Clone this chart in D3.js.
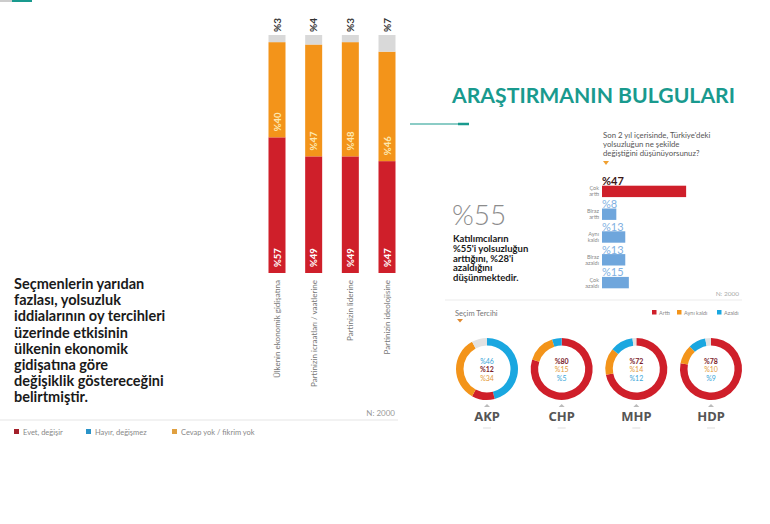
<!DOCTYPE html>
<html><head><meta charset="utf-8">
<script src="https://cdn.jsdelivr.net/npm/d3@7/dist/d3.min.js"></script>
<style>
html,body{margin:0;padding:0;background:#fff;}
svg{display:block;font-family:Lato,"Noto Sans",sans-serif;}
</style></head>
<body>
<script>
// ---- Left stacked bar chart ----
const leftCategories = ["Ülkenin ekonomik gidişatına", "Partinizin icraatları / vaatlerine", "Partinizin liderine", "Partinizin ideolojisine"];
const evetValues = [57, 49, 49, 47];
const cevapYokValues = [40, 47, 48, 46];
const hayirValues = [3, 4, 3, 7];
const leftLegend = ["Evet, değişir", "Hayır, değişmez", "Cevap yok / fikrim yok"];
const leftText = ["Seçmenlerin yarıdan", "fazlası, yolsuzluk", "iddialarının oy tercihleri", "üzerinde etkisinin", "ülkenin ekonomik", "gidişatına göre", "değişiklik göstereceğini", "belirtmiştir."];

// ---- Right horizontal bars ----
const trendCategories = [["Çok", "arttı"], ["Biraz", "arttı"], ["Aynı", "kaldı"], ["Biraz", "azaldı"], ["Çok", "azaldı"]];
const trendValues = [47, 8, 13, 13, 15];
const questionLines = ["Son 2 yıl içerisinde, Türkiye'deki", "yolsuzluğun ne şekilde", "değiştiğini düşünüyorsunuz?"];
const summaryLines = ["Katılımcıların", "%55'i yolsuzluğun", "arttığını, %28'i", "azaldığını", "düşünmektedir."];

// ---- Donuts ----
const parties = ["AKP", "CHP", "MHP", "HDP"];
const arttiValues = [12, 80, 72, 78];
const ayniValues = [34, 15, 14, 10];
const azaldiValues = [46, 5, 12, 9];
const segmentOrder = [["azaldi", "artti", "ayni"], ["artti", "ayni", "azaldi"], ["artti", "ayni", "azaldi"], ["artti", "ayni", "azaldi"]];
const donutLegend = ["Arttı", "Aynı kaldı", "Azaldı"];

const W = 770, H = 524;
const RED = "#cf1f2a", ORANGE = "#f3941a", GRAY = "#d9d9d9", BLUE = "#1aa7e0", LBLUE = "#6fa6dc", TEAL = "#199a8e";

const svg = d3.select("body").append("svg").attr("width", W).attr("height", H);

svg.append("line").attr("x1", 0).attr("x2", 12).attr("y1", 1).attr("y2", 1).attr("stroke", "#bbb").attr("stroke-width", 1.5);
svg.append("line").attr("x1", 12).attr("x2", 32).attr("y1", 1).attr("y2", 1).attr("stroke", TEAL).attr("stroke-width", 2);

// ===== Left stacked bars =====
const xL = d3.scalePoint().domain(leftCategories).range([277, 387]);
const yL = d3.scaleLinear().domain([0, 100]).range([273, 35]);
const barW = 17;
const stackData = leftCategories.map((c, i) => ({cat: c, evet: evetValues[i], cevap: cevapYokValues[i], hayir: hayirValues[i]}));
const stack = d3.stack().keys(["evet", "cevap", "hayir"])(stackData);
const leftColors = {evet: RED, cevap: ORANGE, hayir: GRAY};
const gL = svg.append("g");
stack.forEach(layer => {
  gL.selectAll(null).data(layer).enter().append("rect")
    .attr("x", d => xL(d.data.cat) - barW / 2)
    .attr("y", d => yL(d[1]))
    .attr("width", barW)
    .attr("height", d => yL(d[0]) - yL(d[1]))
    .attr("fill", leftColors[layer.key]);
});
stack.forEach(layer => {
  if (layer.key === "hayir") {
    gL.selectAll(null).data(layer).enter().append("text")
      .attr("transform", d => `translate(${xL(d.data.cat) + 3.5},${yL(d[1]) - 3}) rotate(-90)`)
      .attr("font-size", 10).attr("font-weight", 700).attr("fill", "#333")
      .text(d => "%" + (d[1] - d[0]));
  } else {
    gL.selectAll(null).data(layer).enter().append("text")
      .attr("transform", d => `translate(${xL(d.data.cat) + 3.5},${yL(d[0]) - 6}) rotate(-90)`)
      .attr("font-size", 9.5).attr("font-weight", 700)
      .attr("fill", layer.key === "evet" ? "#fff" : "#fde8b0")
      .text(d => "%" + (d[1] - d[0]));
  }
});
gL.selectAll(null).data(leftCategories).enter().append("text")
  .attr("transform", d => `translate(${xL(d) + 3},280) rotate(-90)`)
  .attr("text-anchor", "end").attr("font-size", 8).attr("fill", "#777")
  .text(d => d);
svg.append("text").attr("x", 395).attr("y", 416).attr("text-anchor", "end").attr("font-size", 8).attr("fill", "#999").text("N: 2000");
svg.append("line").attr("x1", 0).attr("x2", 398).attr("y1", 420).attr("y2", 420).attr("stroke", "#e6e6e6").attr("stroke-width", 1.2);

const legX = [14, 86, 172];
const legC = ["#a3202a", "#2a93c8", "#e0a040"];
leftLegend.forEach((t, i) => {
  svg.append("rect").attr("x", legX[i]).attr("y", 429).attr("width", 5).attr("height", 5).attr("fill", legC[i]);
  svg.append("text").attr("x", legX[i] + 9).attr("y", 434.5).attr("font-size", 7.5).attr("fill", "#888").text(t);
});

svg.append("g").selectAll("text").data(leftText).enter().append("text")
  .attr("x", 14).attr("y", (d, i) => 289 + i * 16.2)
  .attr("font-size", 14.5).attr("font-weight", 700).attr("fill", "#1a1a1a")
  .text(d => d);

// ===== Right page =====
svg.append("text").attr("x", 452).attr("y", 103).attr("font-size", 21).attr("font-weight", 700)
  .attr("fill", TEAL).attr("textLength", 283).attr("lengthAdjust", "spacingAndGlyphs").text("ARAŞTIRMANIN BULGULARI");
svg.append("line").attr("x1", 410).attr("x2", 458).attr("y1", 124).attr("y2", 124).attr("stroke", TEAL).attr("stroke-width", 1.2);
svg.append("line").attr("x1", 458).attr("x2", 469).attr("y1", 124).attr("y2", 124).attr("stroke", TEAL).attr("stroke-width", 2.5);

svg.append("g").selectAll("text").data(questionLines).enter().append("text")
  .attr("x", 603).attr("y", (d, i) => 138 + i * 9.2)
  .attr("font-size", 7.8).attr("fill", "#555").text(d => d);
svg.append("path").attr("d", "M603,161 L609,161 L606,165 Z").attr("fill", "#f0a030");

const xR = d3.scaleLinear().domain([0, 100]).range([602, 781]);
const yR = d3.scaleBand().domain(trendCategories.map((d, i) => i)).range([180, 294]).paddingInner(0.5).paddingOuter(0.25);
const gR = svg.append("g");
gR.selectAll("rect").data(trendValues).enter().append("rect")
  .attr("x", xR(0)).attr("y", (d, i) => yR(i))
  .attr("width", d => xR(d) - xR(0)).attr("height", yR.bandwidth())
  .attr("fill", (d, i) => i === 0 ? RED : LBLUE);
gR.selectAll("text.v").data(trendValues).enter().append("text")
  .attr("x", xR(0)).attr("y", (d, i) => yR(i) - 0.5)
  .attr("font-size", 11).attr("font-weight", (d, i) => i === 0 ? 700 : 400)
  .attr("fill", (d, i) => i === 0 ? "#3a1616" : "#7fb0e2").text(d => "%" + d);
trendCategories.forEach((c, i) => {
  c.forEach((t, j) => {
    gR.append("text").attr("x", 599).attr("y", yR(i) + yR.bandwidth() / 2 - 1 + j * 6)
      .attr("text-anchor", "end").attr("font-size", 5.5).attr("fill", "#888").text(t);
  });
});
svg.append("text").attr("x", 739).attr("y", 296).attr("text-anchor", "end").attr("font-size", 6.5).attr("fill", "#aaa").text("N: 2000");
svg.append("line").attr("x1", 445).attr("x2", 742).attr("y1", 300).attr("y2", 300).attr("stroke", "#ececec").attr("stroke-width", 1.2);

svg.append("text").attr("x", 452).attr("y", 225).attr("font-size", 28).attr("font-weight", 300).attr("fill", "#8c8c8c").text("%55");
svg.append("g").selectAll("text").data(summaryLines).enter().append("text")
  .attr("x", 453).attr("y", (d, i) => 242 + i * 9.8)
  .attr("font-size", 9.5).attr("font-weight", 700).attr("fill", "#1a1a1a").text(d => d);

svg.append("text").attr("x", 455).attr("y", 316).attr("font-size", 7.5).attr("fill", "#777").text("Seçim Tercihi");
svg.append("path").attr("d", "M457,319 L463,319 L460,322.5 Z").attr("fill", "#e08a30");
const dLegX = [652, 677, 717];
const dLegC = [RED, ORANGE, BLUE];
donutLegend.forEach((t, i) => {
  svg.append("rect").attr("x", dLegX[i]).attr("y", 310).attr("width", 4.5).attr("height", 4.5).attr("fill", dLegC[i]);
  svg.append("text").attr("x", dLegX[i] + 7).attr("y", 314.5).attr("font-size", 5.5).attr("fill", "#888").text(t);
});

const xD = d3.scalePoint().domain(parties).range([487, 711]);
const segColor = {artti: RED, ayni: ORANGE, azaldi: BLUE, other: "#e2e2e2"};
const labelColor = {artti: "#7b1d2b", ayni: "#e39a3a", azaldi: "#3aa6d8"};
const arc = d3.arc().innerRadius(23.5).outerRadius(31);
const pie = d3.pie().sort(null).value(d => d.v);
parties.forEach((p, i) => {
  const vals = {artti: arttiValues[i], ayni: ayniValues[i], azaldi: azaldiValues[i]};
  const segs = segmentOrder[i].map(k => ({k, v: vals[k]}));
  const rest = 100 - d3.sum(segs, d => d.v);
  if (rest > 0) segs.push({k: "other", v: rest});
  const g = svg.append("g").attr("transform", `translate(${xD(p)},369)`);
  g.selectAll("path").data(pie(segs)).enter().append("path")
    .attr("d", arc).attr("fill", d => segColor[d.data.k]);
  const order = i === 0 ? ["azaldi", "artti", "ayni"] : ["artti", "ayni", "azaldi"];
  order.forEach((k, j) => {
    g.append("text").attr("x", 0).attr("y", -5.5 + j * 8.5).attr("text-anchor", "middle")
      .attr("font-size", 7).attr("font-weight", k === "artti" ? 700 : 400)
      .attr("fill", labelColor[k]).text("%" + vals[k]);
  });
  svg.append("path").attr("d", `M${xD(p) - 3},407 L${xD(p) + 3},407 L${xD(p)},404 Z`).attr("fill", "#bbb");
  svg.append("text").attr("x", xD(p)).attr("y", 421).attr("text-anchor", "middle")
    .style("font-family", "'Noto Sans', 'DejaVu Sans', sans-serif")
    .attr("font-size", 13).attr("font-weight", 700).attr("fill", "#555").text(p);
  svg.append("line").attr("x1", xD(p) - 4).attr("x2", xD(p) + 4).attr("y1", 428).attr("y2", 428).attr("stroke", "#ddd").attr("stroke-width", 1);
});
</script>
</body></html>
